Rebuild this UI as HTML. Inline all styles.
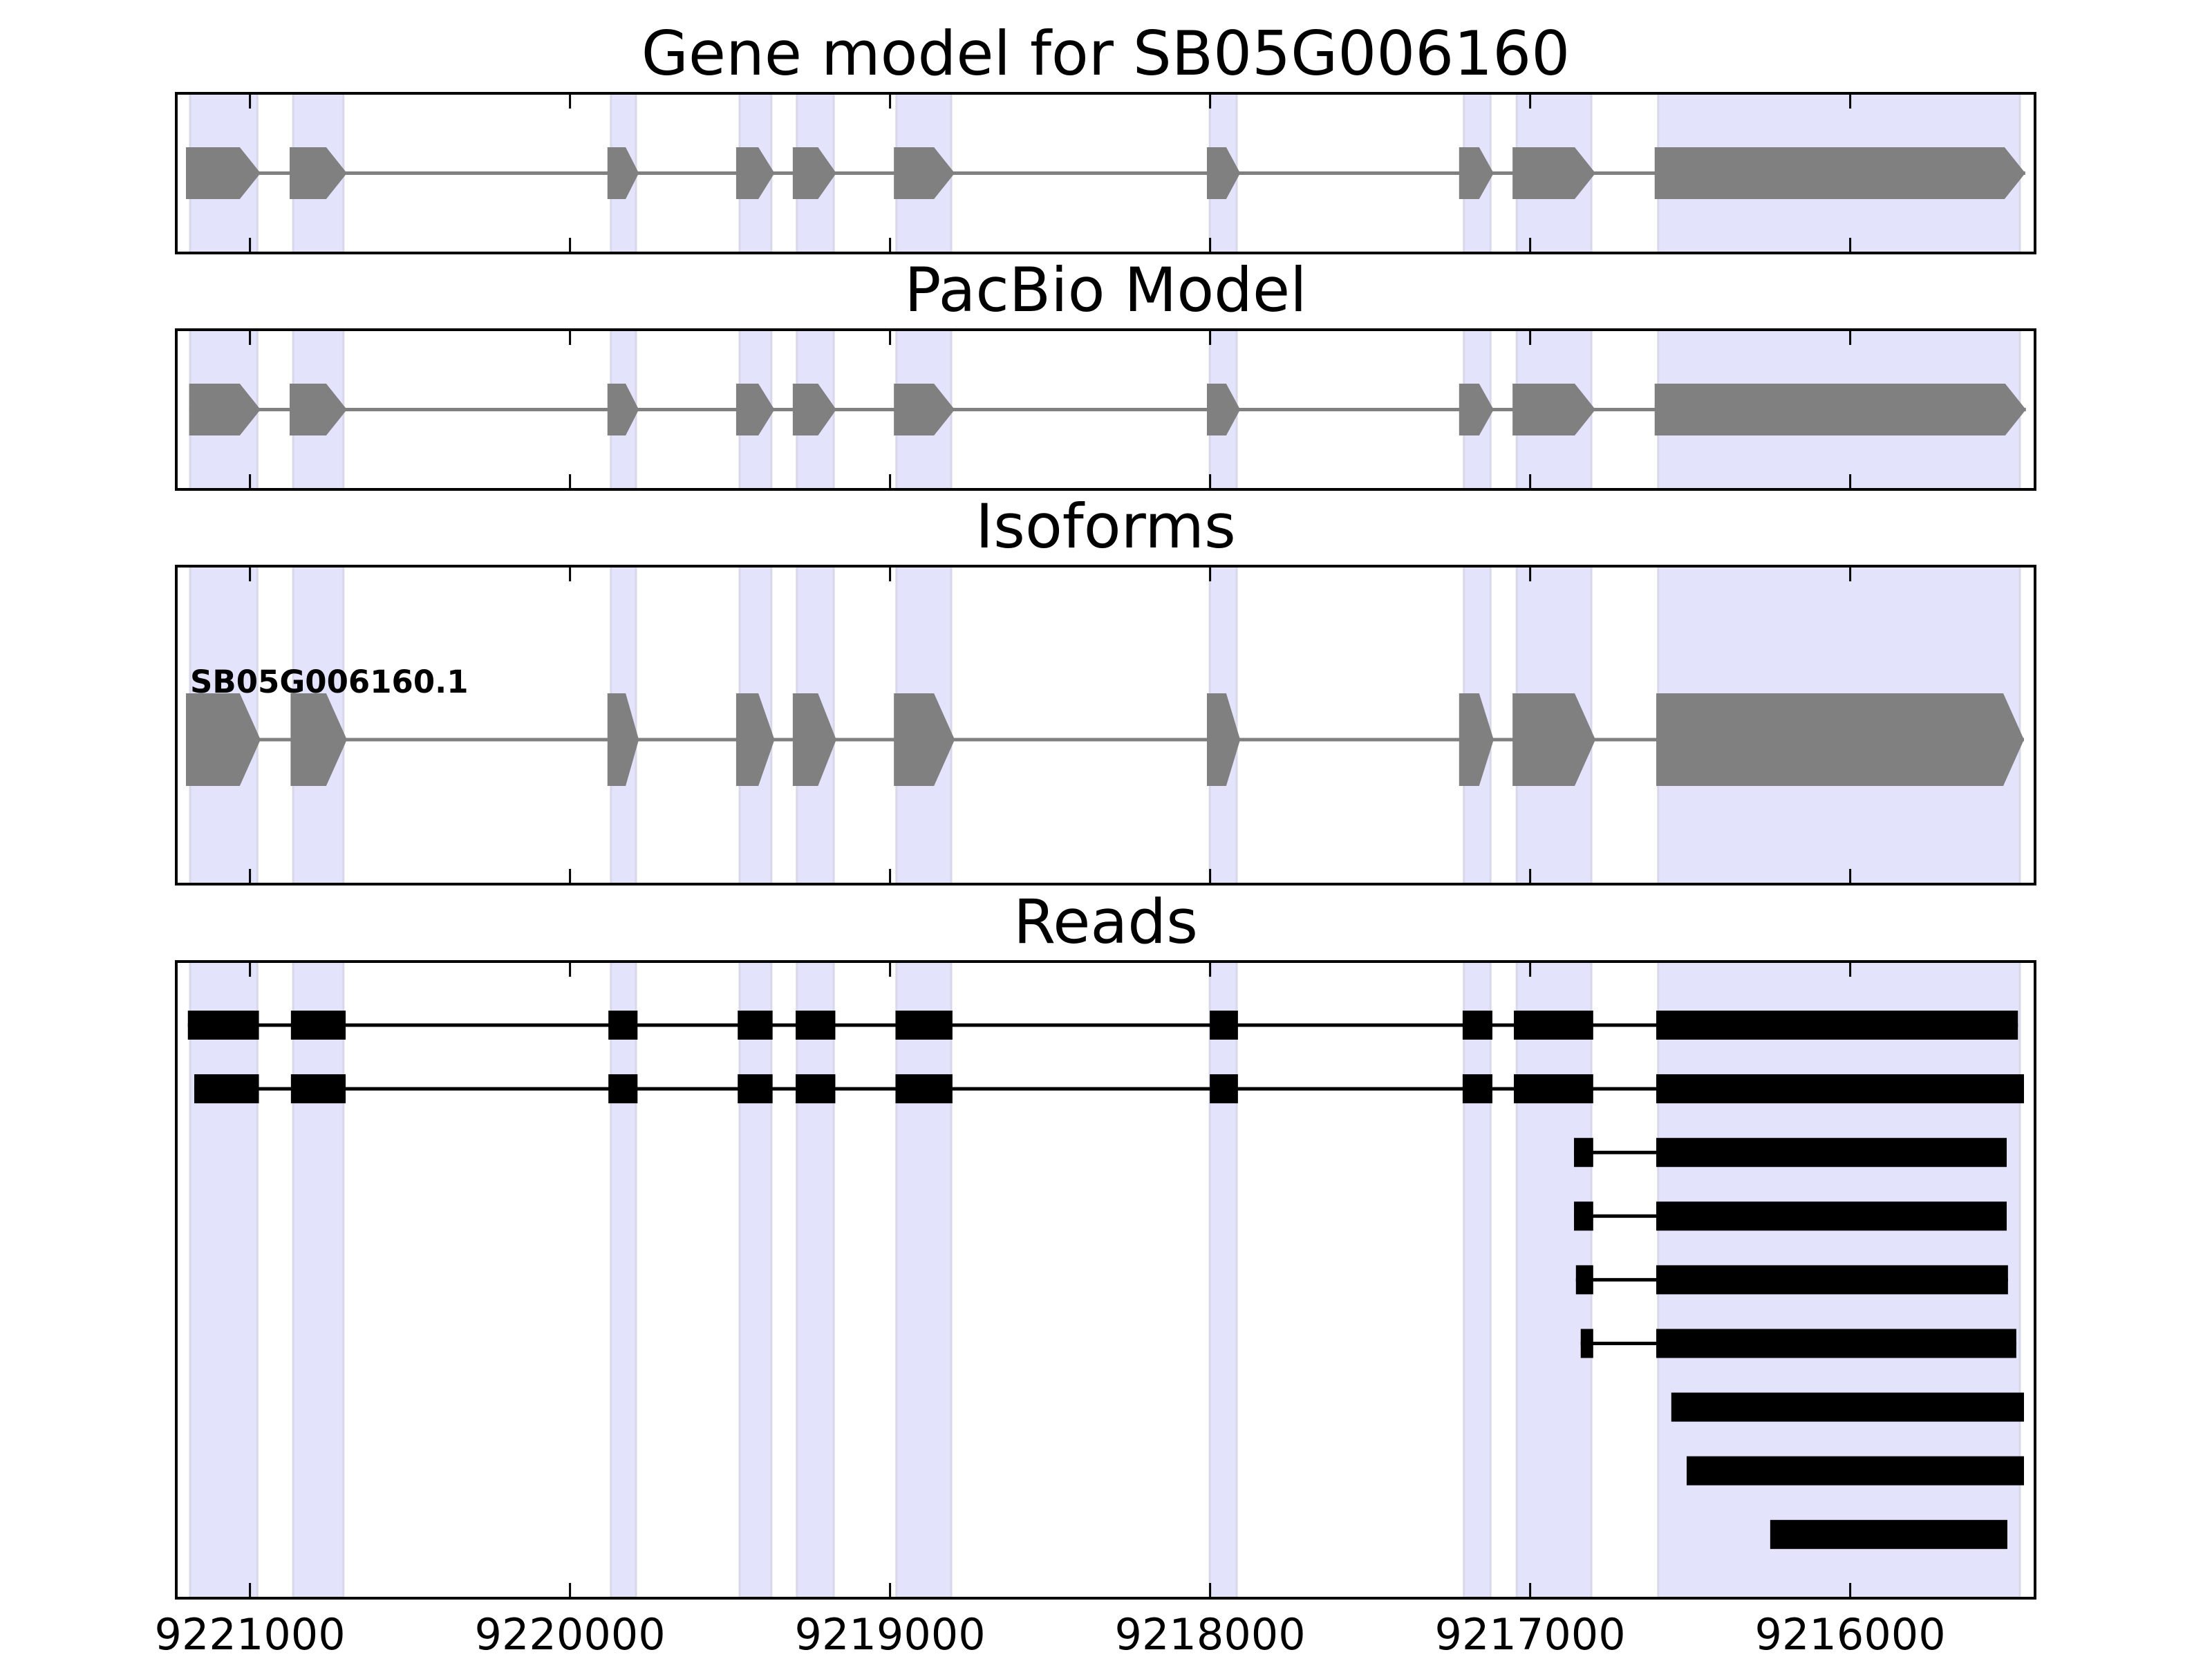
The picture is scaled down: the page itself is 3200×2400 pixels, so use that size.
<!DOCTYPE html>
<html><head><meta charset="utf-8"><style>
html,body{margin:0;padding:0;background:#fff;}
svg{display:block;}
text{font-family:"DejaVu Sans","Liberation Sans",sans-serif;}
</style></head><body>
<svg id="chart" width="3200" height="2400" viewBox="0 0 3200 2400" xmlns="http://www.w3.org/2000/svg">
<g id="layer-shade"></g>
<g id="layer-marks"></g>
<g id="layer-axes"></g>
</svg>
<script>
// ---- data ----
const tickValues = [9221000, 9220000, 9219000, 9218000, 9217000, 9216000];
const tickLabels = ["9221000", "9220000", "9219000", "9218000", "9217000", "9216000"];
const shadeStarts = [9221187, 9220865, 9219872, 9219470, 9219291, 9218980, 9218001, 9217207, 9217042, 9216600];
const shadeEnds   = [9220977, 9220708, 9219794, 9219371, 9219176, 9218809, 9217917, 9217124, 9216809, 9215470];
const geneExonStarts = [9221200, 9220876, 9219883, 9219481, 9219304, 9218988, 9218010, 9217222, 9217055, 9216611];
const geneExonEnds   = [9220967, 9220697, 9219785, 9219361, 9219168, 9218798, 9217906, 9217114, 9216796, 9215453];
const pacbioExonStarts = [9221190, 9220876, 9219883, 9219481, 9219304, 9218988, 9218010, 9217222, 9217055, 9216611];
const pacbioExonEnds   = [9220967, 9220697, 9219785, 9219361, 9219168, 9218798, 9217906, 9217114, 9216796, 9215451];
const isoformExonStarts = [9221200, 9220873, 9219883, 9219481, 9219304, 9218988, 9218010, 9217222, 9217055, 9216606];
const isoformExonEnds   = [9220967, 9220697, 9219785, 9219361, 9219168, 9218798, 9217906, 9217114, 9216796, 9215457];
const isoformName = "SB05G006160.1";
const midReadStarts = [9219880, 9219476, 9219295, 9218983, 9218001, 9217211, 9217051];
const midReadEnds   = [9219789, 9219367, 9219171, 9218805, 9217913, 9217118, 9216803];
const readBlocks = [
  [[9221194, 9220972], [9220872, 9220701], "mid", [9216606, 9215476]],
  [[9221174, 9220972], [9220872, 9220701], "mid", [9216606, 9215457]],
  [[9216863, 9216803], [9216606, 9215511]],
  [[9216863, 9216803], [9216606, 9215511]],
  [[9216857, 9216803], [9216606, 9215507]],
  [[9216842, 9216803], [9216606, 9215481]],
  [[9216559, 9215457]],
  [[9216511, 9215457]],
  [[9216250, 9215509]]
];
const panelTitles = ["Gene model for SB05G006160", "PacBio Model", "Isoforms", "Reads"];

// ---- layout ----
const AX_L = 255, AX_R = 2944;
const panels = [
  {top: 135, bot: 366, name: "gene-model-panel"},
  {top: 477, bot: 708, name: "pacbio-model-panel"},
  {top: 819, bot: 1279, name: "isoforms-panel"},
  {top: 1391, bot: 2312, name: "reads-panel"}
];
const NS = "http://www.w3.org/2000/svg";
function x(v){ return 361.6 + (9221000 - v) * 0.463; }
function el(tag, attrs, parent){
  const e = document.createElementNS(NS, tag);
  for (const k in attrs) e.setAttribute(k, attrs[k]);
  parent.appendChild(e);
  return e;
}
const shade = document.getElementById('layer-shade');
const marks = document.getElementById('layer-marks');
const axes = document.getElementById('layer-axes');

panels.forEach((p) => {
  shadeStarts.forEach((s, i) => {
    const r = el('rect', {x: x(s), y: p.top, width: x(shadeEnds[i]) - x(s), height: p.bot - p.top, fill: '#e3e3fc', stroke: '#d8d8ea', 'stroke-width': 3}, shade);
    
    
  });
});

function geneModel(starts, ends, cy, h, nameBase){
  const l = el('line', {x1: x(starts[0]), x2: x(ends[ends.length-1]), y1: cy, y2: cy, stroke: '#808080', 'stroke-width': 5}, marks);
  
  
  starts.forEach((s, i) => {
    const x0 = x(s), x1 = x(ends[i]);
    const w = x1 - x0;
    const head = Math.min(30, 0.42 * w);
    const pts = [[x0, cy - h/2], [x1 - head, cy - h/2], [x1, cy], [x1 - head, cy + h/2], [x0, cy + h/2]].map(p => p.join(',')).join(' ');
    const poly = el('polygon', {points: pts, fill: '#808080'}, marks);
    
    
  });
}
geneModel(geneExonStarts, geneExonEnds, 250.5, 75, 'gene-model');
geneModel(pacbioExonStarts, pacbioExonEnds, 592.5, 75, 'pacbio');
geneModel(isoformExonStarts, isoformExonEnds, 1070, 134, 'isoform');
const lab = el('text', {x: 275, y: 1002, 'font-size': 45, 'font-weight': 'bold', fill: '#000'}, marks);
lab.textContent = isoformName;



readBlocks.forEach((row, ri) => {
  const cy = 1483 + ri * 92.1;
  let blocks = [];
  row.forEach(b => {
    if (b === "mid") midReadStarts.forEach((s, i) => blocks.push([s, midReadEnds[i]]));
    else blocks.push(b);
  });
  if (blocks.length > 1) {
    const ln = el('line', {x1: x(blocks[0][0]), x2: x(blocks[blocks.length-1][1]), y1: cy, y2: cy, stroke: '#000', 'stroke-width': 5}, marks);
    
    
  }
  blocks.forEach(b => {
    const r = el('rect', {x: x(b[0]), y: cy - 21, width: x(b[1]) - x(b[0]), height: 42, fill: '#000'}, marks);
    
    
  });
});

panels.forEach((p, pi) => {
  const f = el('rect', {x: AX_L, y: p.top, width: AX_R - AX_L, height: p.bot - p.top, fill: 'none', stroke: '#000', 'stroke-width': 4}, axes);
  
  
  tickValues.forEach((v) => {
    const t1 = el('line', {x1: x(v), x2: x(v), y1: p.top, y2: p.top + 22, stroke: '#000', 'stroke-width': 3}, axes);
    
    
    const t2 = el('line', {x1: x(v), x2: x(v), y1: p.bot, y2: p.bot - 22, stroke: '#000', 'stroke-width': 3}, axes);
    
    
  });
  const t = el('text', {x: (AX_L + AX_R) / 2, y: p.top - 27, 'font-size': 88, 'text-anchor': 'middle', fill: '#000'}, axes);
  t.textContent = panelTitles[pi];
  
  
});
tickValues.forEach((v, i) => {
  const t = el('text', {x: x(v), y: 2386, 'font-size': 62, 'text-anchor': 'middle', fill: '#000'}, axes);
  t.textContent = tickLabels[i];
  
  
});
</script>
</body></html>
